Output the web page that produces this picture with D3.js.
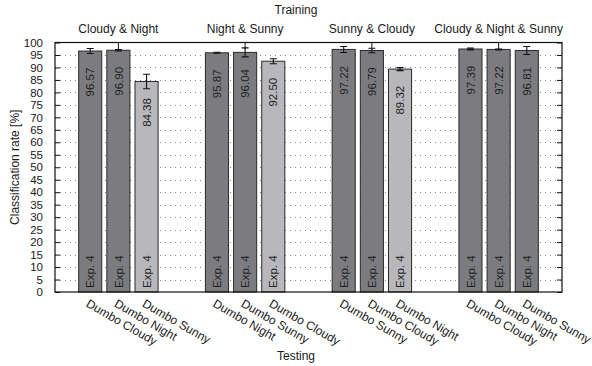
<!DOCTYPE html>
<html>
<head>
<meta charset="utf-8">
<script src="https://cdn.jsdelivr.net/npm/d3@7"></script>
<style>
  html, body { margin: 0; padding: 0; background: #fff; }
  svg { display: block; }
  text { font-family: "Liberation Sans", Arial, Helvetica, sans-serif; fill: #1a1a1a; }
</style>
</head>
<body>
<svg id="chart" width="592" height="366"></svg>
<script>
// Training condition of each group
const groups = ["Cloudy & Night", "Night & Sunny", "Sunny & Cloudy", "Cloudy & Night & Sunny"];
// Testing sets, in bar order, for each group
const testSets = [
  ["Dumbo Cloudy", "Dumbo Night", "Dumbo Sunny"],
  ["Dumbo Night", "Dumbo Sunny", "Dumbo Cloudy"],
  ["Dumbo Sunny", "Dumbo Cloudy", "Dumbo Night"],
  ["Dumbo Cloudy", "Dumbo Night", "Dumbo Sunny"]
];
// Classification rate [%]
const rates = [
  [96.57, 96.90, 84.38],
  [95.87, 96.04, 92.50],
  [97.22, 96.79, 89.32],
  [97.39, 97.22, 96.81]
];
// Standard deviation [%]
const errors = [
  [1.0, 0.3, 2.9],
  [0.2, 1.8, 1.0],
  [1.2, 0.9, 0.6],
  [0.35, 0.2, 1.6]
];
// Whether the testing condition was part of the training set
const seenInTraining = [
  [true, true, false],
  [true, true, false],
  [true, true, false],
  [true, true, true]
];
const experiment = "Exp. 4";
const yTicks = [0, 5, 10, 15, 20, 25, 30, 35, 40, 45, 50, 55, 60, 65, 70, 75, 80, 85, 90, 95, 100];

const svg = d3.select("#chart");
const W = 592;
const plot = { left: 55, right: 562, top: 42.5, bottom: 292 };

const rows = [];
groups.forEach((g, gi) => {
  testSets[gi].forEach((t, ti) => {
    rows.push({ group: g, gi, ti, test: t, rate: rates[gi][ti], err: errors[gi][ti], seen: seenInTraining[gi][ti] });
  });
});

const x0 = d3.scaleBand().domain(groups).range([plot.left, plot.right])
  .paddingInner(1 / 3).paddingOuter(1 / 6);
const x1 = d3.scaleBand().domain([0, 1, 2]).range([0, x0.bandwidth()])
  .paddingInner(0.18).paddingOuter(0.09);
const y = d3.scaleLinear().domain([0, 100]).range([plot.bottom, plot.top]);

const barX = d => x0(d.group) + x1(d.ti);
const barC = d => barX(d) + x1.bandwidth() / 2;

svg.append("defs").append("clipPath").attr("id", "plotClip")
  .append("rect").attr("x", plot.left).attr("y", plot.top)
  .attr("width", plot.right - plot.left).attr("height", plot.bottom - plot.top);

// dotted horizontal grid
svg.append("g").selectAll("line").data(yTicks.filter(v => v > 0 && v < 100)).join("line")
  .attr("x1", plot.left).attr("x2", plot.right)
  .attr("y1", d => Math.round(y(d)) + 0.5).attr("y2", d => Math.round(y(d)) + 0.5)
  .attr("stroke", "#8a8a8a").attr("stroke-width", 1).attr("stroke-dasharray", "1,4");

// bars
svg.append("g").selectAll("rect").data(rows).join("rect")
  .attr("x", d => barX(d)).attr("width", x1.bandwidth())
  .attr("y", d => y(d.rate)).attr("height", d => y(0) - y(d.rate))
  .attr("fill", d => d.seen ? "#7c7c80" : "#b8b8bc")
  .attr("stroke", "#2a2a2a").attr("stroke-width", 1);

// error bars
const eb = svg.append("g").attr("clip-path", "url(#plotClip)")
  .attr("stroke", "#111").attr("stroke-width", 1.1).attr("fill", "none");
rows.forEach(d => {
  const cx = barC(d), hi = y(d.rate + d.err), lo = y(d.rate - d.err), cw = 3.5;
  eb.append("line").attr("x1", cx).attr("x2", cx).attr("y1", hi).attr("y2", lo);
  eb.append("line").attr("x1", cx - cw).attr("x2", cx + cw).attr("y1", hi).attr("y2", hi);
  eb.append("line").attr("x1", cx - cw).attr("x2", cx + cw).attr("y1", lo).attr("y2", lo);
});

// value labels inside the bars
svg.append("g").selectAll("text").data(rows).join("text")
  .attr("transform", d => `translate(${barC(d)},${y(d.rate) + 31}) rotate(-90)`)
  .attr("text-anchor", "middle").attr("dy", "0.36em")
  .style("font-size", "11.5px").style("fill", "#222")
  .text(d => d.rate.toFixed(2));

// experiment labels at the foot of the bars
svg.append("g").selectAll("text").data(rows).join("text")
  .attr("transform", d => `translate(${barC(d)},${y(0) - 4}) rotate(-90)`)
  .attr("text-anchor", "start").attr("dy", "0.36em")
  .style("font-size", "11.5px").style("fill", "#222")
  .text(experiment);

// frame
svg.append("rect").attr("x", plot.left).attr("y", plot.top)
  .attr("width", plot.right - plot.left).attr("height", plot.bottom - plot.top)
  .attr("fill", "none").attr("stroke", "#111").attr("stroke-width", 1.2);

// y axis (left) with inward ticks, mirrored on the right
const yAxis = d3.axisLeft(y).tickValues(yTicks).tickSize(-5).tickPadding(12).tickFormat(d3.format("d"));
const gy = svg.append("g").attr("transform", `translate(${plot.left},0)`).call(yAxis);
gy.select(".domain").remove();
gy.selectAll("line").attr("stroke", "#111");
gy.selectAll("text").style("font-size", "11.5px").style("font-family", "'Liberation Sans', Arial, sans-serif").attr("fill", "#1a1a1a");
const gyr = svg.append("g").attr("transform", `translate(${plot.right},0)`)
  .call(d3.axisRight(y).tickValues(yTicks).tickSize(-5).tickFormat(""));
gyr.select(".domain").remove();
gyr.selectAll("line").attr("stroke", "#111");

// group titles on top axis, with inward ticks
const gt = svg.append("g").attr("transform", `translate(0,${plot.top})`)
  .call(d3.axisTop(x0).tickSize(-7).tickPadding(10));
gt.select(".domain").remove();
gt.selectAll("line").attr("stroke", "#111");
gt.selectAll("text").style("font-size", "12px").style("font-family", "'Liberation Sans', Arial, sans-serif").attr("fill", "#1a1a1a");

// testing set labels, slanted
svg.append("g").selectAll("text").data(rows).join("text")
  .attr("transform", d => `translate(${barC(d) - 5},${plot.bottom + 14}) rotate(30)`)
  .attr("text-anchor", "start")
  .style("font-size", "12px")
  .text(d => d.test);

// axis titles
svg.append("text").attr("x", W / 2).attr("y", 14).attr("text-anchor", "middle")
  .style("font-size", "12px").text("Training");
svg.append("text").attr("x", W / 2).attr("y", 360).attr("text-anchor", "middle")
  .style("font-size", "12px").text("Testing");
svg.append("text").attr("transform", `translate(19,${(plot.top + plot.bottom) / 2}) rotate(-90)`)
  .attr("text-anchor", "middle").style("font-size", "12px").text("Classification rate [%]");
</script>
</body>
</html>
